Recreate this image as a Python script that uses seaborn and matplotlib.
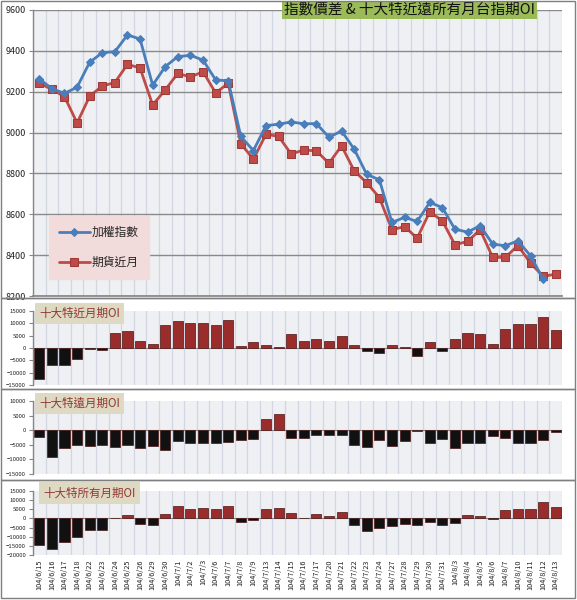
import numpy as np
import pandas as pd
import matplotlib
matplotlib.use('Agg')
import matplotlib.pyplot as plt
import matplotlib.patches as mpatches
import seaborn as sns

# dates (ROC calendar)
dates = ['104/6/15', '104/6/16', '104/6/17', '104/6/18', '104/6/22', '104/6/23', '104/6/24',
         '104/6/25', '104/6/26', '104/6/29', '104/6/30', '104/7/1', '104/7/2', '104/7/3',
         '104/7/6', '104/7/7', '104/7/8', '104/7/9', '104/7/13', '104/7/14', '104/7/15',
         '104/7/16', '104/7/17', '104/7/20', '104/7/21', '104/7/22', '104/7/23', '104/7/24',
         '104/7/27', '104/7/28', '104/7/29', '104/7/30', '104/7/31', '104/8/3', '104/8/4',
         '104/8/5', '104/8/6', '104/8/7', '104/8/10', '104/8/11', '104/8/12', '104/8/13']

index_vals = [9263, 9215, 9192, 9222, 9344, 9391, 9396, 9478, 9458, 9232, 9323, 9372, 9378,
              9355, 9258, 9253, 8981, 8912, 9034, 9041, 9052, 9043, 9044, 8977, 9008, 8919,
              8795, 8769, 8560, 8585, 8565, 8658, 8633, 8527, 8513, 8544, 8454, 8446, 8470,
              8397, 8283, np.nan]
futures_vals = [9241, 9212, 9176, 9047, 9178, 9228, 9245, 9334, 9316, 9135, 9209, 9290, 9272,
                9298, 9194, 9241, 8945, 8870, 8992, 8981, 8895, 8915, 8910, 8850, 8935, 8813,
                8754, 8682, 8524, 8540, 8483, 8612, 8568, 8451, 8467, 8524, 8389, 8389, 8447,
                8361, 8296, 8307]

near_oi = [-12500, -7000, -6700, -4500, -500, -800, 6000, 7000, 3000, 1800, 9500, 11000, 10200,
           10200, 9500, 11500, 1000, 2500, 1300, 400, 5500, 2800, 3600, 2800, 5000, 1400,
           -1200, -2000, 1300, 600, -3400, 2400, -1200, 3600, 6200, 5800, 1700, 7800, 9900,
           9900, 12400, 7400]
far_oi = [-2200, -9300, -6100, -5000, -5400, -5000, -5700, -5000, -6100, -5400, -6700, -3800,
          -4400, -4400, -4400, -4000, -3300, -3000, 3700, 5600, -2800, -2800, -1500, -1500,
          -1700, -5200, -5700, -3400, -5400, -3700, -400, -4500, -2900, -6200, -4500, -4500,
          -2000, -2800, -4300, -4500, -3400, -700]
all_oi = [-14600, -16500, -13000, -10000, -6500, -6500, 300, 1900, -3100, -3700, 2500, 6900,
          5300, 5700, 4900, 7000, -2200, -700, 5100, 5800, 2700, 100, 2400, 1600, 3300, -3800,
          -6900, -5300, -3900, -2900, -3800, -1700, -3800, -2700, 1800, 1300, -500, 4700, 5300,
          5200, 8900, 6400]

bar_titles = ['十大特近月期OI', '十大特遠月期OI', '十大特所有月期OI']
bar_ticks = [[-15000, -10000, -5000, 0, 5000, 10000, 15000],
             [-15000, -10000, -5000, 0, 5000, 10000],
             [-20000, -15000, -10000, -5000, 0, 5000, 10000, 15000]]

sns.set_theme(style='white')
plt.rcParams['font.family'] = ['Noto Sans CJK TC', 'DejaVu Sans']

W, H = 577, 600
fig = plt.figure(figsize=(W / 100, H / 100), dpi=100)


def box(l, t, r, b):
    return [l / W, 1 - b / H, (r - l) / W, (b - t) / H]


bg = '#eff0f3'
vline = '#d2d6e3'
axis_gray = '#868686'
red = '#9b2c2c'
n = len(dates)


def style_axis(ax, fs):
    ax.set_facecolor(bg)
    for s in ['top', 'right', 'bottom']:
        ax.spines[s].set_visible(False)
    ax.spines['left'].set_color(axis_gray)
    ax.spines['left'].set_linewidth(1)
    ax.tick_params(axis='y', length=3, width=0.8, color=axis_gray, labelsize=fs, pad=2,
                   left=True, labelcolor='#222222')
    ax.tick_params(axis='x', length=0)
    for i in range(n + 1):
        ax.axvline(i - 0.5, color=vline, lw=0.9, zorder=0)
    ax.set_xlim(-0.5, n - 0.5)
    ax.set_axisbelow(True)


# ---- top line chart ----
ax0 = fig.add_axes(box(33, 10, 562, 296))
style_axis(ax0, 6.5)
for yv in range(8200, 9601, 200):
    ax0.axhline(yv, color='#8a8a8a', lw=1, zorder=0.5)
x = np.arange(n)
sns.lineplot(x=x, y=index_vals, ax=ax0, color='#4a7ebb', lw=2, marker='D', markersize=4.5,
             markeredgecolor='#4a7ebb', label='加權指數', zorder=3)
sns.lineplot(x=x, y=futures_vals, ax=ax0, color='#be4b48', lw=2, marker='s', markersize=5.8,
             markeredgecolor='#a03a37', label='期貨近月', zorder=2)
ax0.set_ylim(8200, 9600)
ax0.set_yticks(range(8200, 9601, 200))
ax0.set_xticks([])
ax0.set_xlabel('')
ax0.set_ylabel('')
ax0.spines['bottom'].set_visible(True)
ax0.spines['bottom'].set_color(axis_gray)
leg = ax0.legend(loc='lower left', bbox_to_anchor=(0.03, 0.06), frameon=True, fontsize=8.5,
                 labelspacing=1.45, handlelength=2.6, borderpad=0.85, handletextpad=0.2,
                 borderaxespad=0, fancybox=False)
leg.get_frame().set_facecolor('#f2dcdb')
leg.get_frame().set_edgecolor('#f2dcdb')
leg.get_frame().set_alpha(1)
ax0.text(0.474, 0.999, '指數價差 & 十大特近遠所有月台指期OI', transform=ax0.transAxes,
         fontsize=10.5, ha='left', va='center', color='#111111',
         bbox=dict(facecolor='#9bbb59', edgecolor='none', pad=1.5), zorder=5)

# ---- bar panels ----
positions = [(311, 385), (401, 474), (491, 555)]
series = [near_oi, far_oi, all_oi]
for k, (vals, (t, b)) in enumerate(zip(series, positions)):
    ax = fig.add_axes(box(33, t, 562, b))
    style_axis(ax, 4.3)
    df = pd.DataFrame({'date': dates, 'v': vals})
    colors = [red if v > 0 else '#111111' for v in vals]
    sns.barplot(data=df, x='date', y='v', hue='date', palette=colors, legend=False,
                width=0.8, saturation=1, edgecolor='#4a1515', linewidth=0.5, ax=ax, zorder=2)
    ax.axhline(0, color=axis_gray, lw=0.8, zorder=1)
    ax.set_ylim(bar_ticks[k][0], bar_ticks[k][-1])
    ax.set_yticks(bar_ticks[k])
    ax.set_xlim(-0.5, n - 0.5)
    ax.set_xlabel('')
    ax.set_ylabel('')
    if k == 2:
        ax.set_xticks(range(n))
        ax.set_xticklabels(dates, rotation=90, fontsize=5.3, color='#222222')
        ax.tick_params(axis='x', pad=3)
    else:
        ax.set_xticks([])
    ax.text(0.012 if k < 2 else 0.02, 0.97, bar_titles[k], transform=ax.transAxes,
            fontsize=8.3, color='#953734', ha='left', va='center',
            bbox=dict(facecolor='#ddd9c3', edgecolor='none', pad=3), zorder=5)

# panel borders
for (t, b) in [(1, 298), (298, 389), (389, 480), (480, 598)]:
    fig.patches.append(mpatches.Rectangle((1 / W, 1 - b / H), 574 / W, (b - t) / H,
                                          transform=fig.transFigure, fill=False,
                                          edgecolor='#7f7f7f', lw=1))

fig.savefig('out.png', dpi=100, facecolor='white')
